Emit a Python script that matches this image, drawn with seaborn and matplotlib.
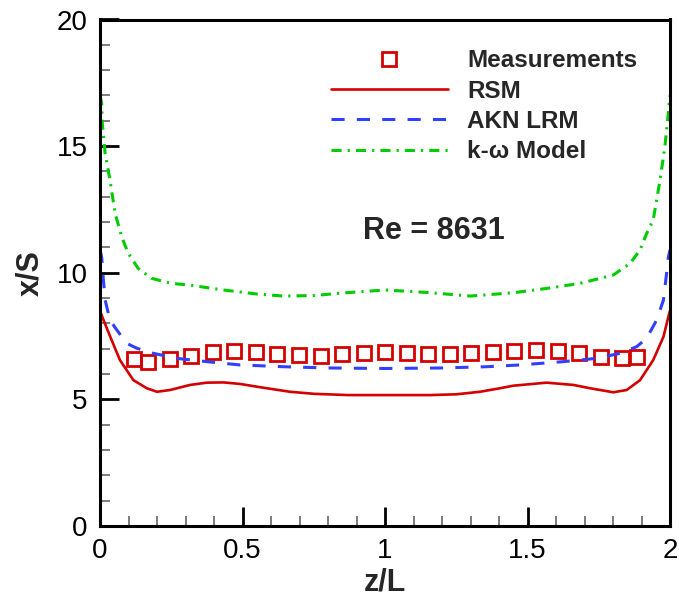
import numpy as np
import pandas as pd
import seaborn as sns
import matplotlib.pyplot as plt
from matplotlib.ticker import MultipleLocator

# measurements (squares)
meas_z = [0.12, 0.17, 0.245, 0.32, 0.395, 0.47, 0.546, 0.622, 0.698, 0.774, 0.85, 0.925,
          1.0, 1.076, 1.152, 1.227, 1.302, 1.378, 1.454, 1.53, 1.606, 1.681, 1.757, 1.832, 1.883]
meas_xs = [6.59, 6.46, 6.59, 6.72, 6.88, 6.91, 6.86, 6.80, 6.75, 6.71, 6.79, 6.84,
           6.86, 6.82, 6.79, 6.79, 6.82, 6.86, 6.92, 6.95, 6.91, 6.82, 6.68, 6.62, 6.66]

# RSM (solid red)
rsm_z = [0.0, 0.01, 0.035, 0.07, 0.117, 0.164, 0.2, 0.246, 0.316, 0.374, 0.433, 0.491,
         0.573, 0.667, 0.75, 0.87, 1.0, 1.16, 1.25, 1.333, 1.404, 1.45, 1.567, 1.661,
         1.719, 1.801, 1.848, 1.895, 1.941, 1.977, 1.994, 2.0]
rsm_xs = [8.5, 8.2, 7.5, 6.55, 5.76, 5.44, 5.30, 5.37, 5.57, 5.66, 5.67, 5.61,
          5.46, 5.30, 5.22, 5.17, 5.17, 5.17, 5.20, 5.30, 5.44, 5.54, 5.66, 5.57,
          5.44, 5.28, 5.37, 5.76, 6.55, 7.47, 8.25, 8.5]

# AKN LRM (blue dashed)
akn_z = [0.0, 0.006, 0.012, 0.018, 0.035, 0.059, 0.094, 0.129, 0.187, 0.269, 0.374,
         0.491, 0.643, 0.8, 1.0, 1.2, 1.357, 1.474, 1.626, 1.743, 1.825, 1.883, 1.918,
         1.953, 1.977, 1.988, 1.994, 2.0]
akn_xs = [10.9, 10.6, 9.71, 8.92, 8.13, 7.74, 7.21, 7.02, 6.82, 6.62, 6.49,
          6.36, 6.29, 6.24, 6.22, 6.24, 6.29, 6.36, 6.49, 6.62, 6.82, 7.08, 7.41,
          8.13, 8.92, 9.98, 10.6, 10.9]

# k-omega (green dash-dot)
kw_z = [0.0, 0.006, 0.008, 0.018, 0.035, 0.053, 0.076, 0.099, 0.134, 0.181, 0.251,
        0.316, 0.433, 0.55, 0.643, 0.75, 0.85, 1.0, 1.15, 1.3, 1.45, 1.567, 1.684,
        1.801, 1.860, 1.895, 1.918, 1.941, 1.965, 1.982, 1.994, 2.0]
kw_xs = [17.0, 16.69, 15.9, 14.71, 13.66, 12.35, 11.42, 10.77, 10.17, 9.78, 9.58,
         9.51, 9.32, 9.16, 9.08, 9.10, 9.20, 9.32, 9.22, 9.08, 9.21, 9.38, 9.58,
         9.91, 10.37, 10.9, 11.55, 12.08, 13.66, 14.97, 16.29, 17.0]

labels = ["Measurements", "RSM", "AKN LRM", "k-\u03c9 Model"]
re_text = "Re = 8631"

sns.set_style("ticks")
plt.rcParams["font.family"] = ["Liberation Sans", "DejaVu Sans"]

fig = plt.figure(figsize=(6.79, 6.0), dpi=100)
ax = fig.add_axes([100 / 679, 1 - 526 / 600, 570 / 679, 506.5 / 600])

sns.lineplot(x=meas_z, y=meas_xs, ax=ax, linestyle="", marker="s", markersize=10,
             markerfacecolor="none", markeredgecolor="#d40000", markeredgewidth=2,
             color="#d40000", label=labels[0])
sns.lineplot(x=rsm_z, y=rsm_xs, ax=ax, color="#d40000", linewidth=1.9, label=labels[1])
sns.lineplot(x=akn_z, y=akn_xs, ax=ax, color="#3040ff", linewidth=2.2,
             dashes=False, label=labels[2])
ax.lines[-1].set_dashes([4.3, 4.0])
sns.lineplot(x=kw_z, y=kw_xs, ax=ax, color="#00cc00", linewidth=2.2,
             dashes=False, label=labels[3])
ax.lines[-1].set_dashes([3.3, 2.0, 0.7, 2.0])

ax.set_xlim(0, 2)
ax.set_ylim(0, 20)
ax.xaxis.set_major_locator(MultipleLocator(0.5))
ax.xaxis.set_minor_locator(MultipleLocator(0.1))
ax.yaxis.set_major_locator(MultipleLocator(5))
ax.yaxis.set_minor_locator(MultipleLocator(1))
ax.set_xticks([0, 0.5, 1, 1.5, 2], ["0", "0.5", "1", "1.5", "2"])
ax.tick_params(which="major", direction="in", length=14, width=2, labelsize=20,
               pad=9, colors="black")
ax.tick_params(which="minor", direction="in", length=7, width=1.2, color="#666666")
for s in ax.spines.values():
    s.set_linewidth(2.2)
    s.set_color("black")

ax.set_xlabel("z/L", fontsize=22, fontweight="bold", labelpad=2)
ax.set_ylabel("x/S", fontsize=22, fontweight="bold", labelpad=8)

ax.text(1.17, 11.65, re_text, fontsize=22, fontweight="bold", ha="center", va="center")

leg = ax.legend(loc="upper left", bbox_to_anchor=(0.405, 0.941), frameon=False,
                borderpad=0, borderaxespad=0, handlelength=4.8, handletextpad=0.8,
                labelspacing=0.3, prop={"size": 17.5, "weight": "bold"})

fig.savefig("out.png", dpi=100)
